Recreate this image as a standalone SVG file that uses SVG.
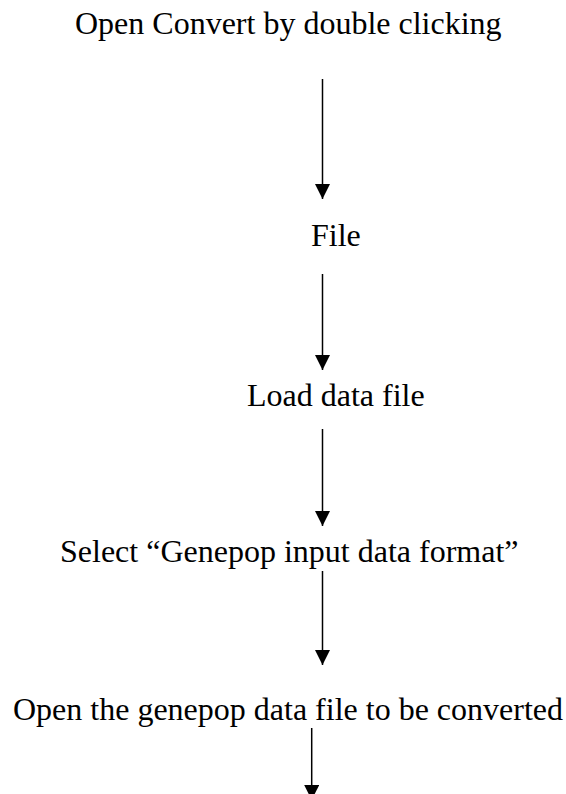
<svg xmlns="http://www.w3.org/2000/svg" width="566" height="794" viewBox="0 0 566 794">
<style>
text{font-family:"Liberation Serif","Times New Roman",serif;font-size:32px;fill:#000}
.c{stroke:#000;stroke-width:1.5;fill:none;marker-end:url(#ah)}
</style>
<defs>
<marker id="ah" markerUnits="userSpaceOnUse" markerWidth="15" markerHeight="15" refX="15" refY="7.5" orient="auto" viewBox="0 0 15 15">
<path d="M0,0 L15,7.5 L0,15 z" fill="#000"/>
</marker>
</defs>
<rect width="566" height="794" fill="#fff"/>
<g id="n1"><text x="75" y="34">Open Convert by double clicking</text></g>
<g id="n2"><text x="311" y="246">File</text></g>
<g id="n3"><text x="247" y="406">Load data file</text></g>
<g id="n4"><text x="60" y="562">Select “Genepop input data format”</text></g>
<g id="n5"><text x="13" y="720">Open the genepop data file to be converted</text></g>
<g id="connectors">
<line class="c" x1="322.5" y1="79" x2="322.5" y2="199"/>
<line class="c" x1="322.5" y1="274" x2="322.5" y2="370"/>
<line class="c" x1="322.5" y1="429" x2="322.5" y2="526"/>
<line class="c" x1="322.5" y1="571" x2="322.5" y2="665"/>
<line class="c" x1="311.7" y1="728" x2="311.7" y2="800"/>
</g>
</svg>
